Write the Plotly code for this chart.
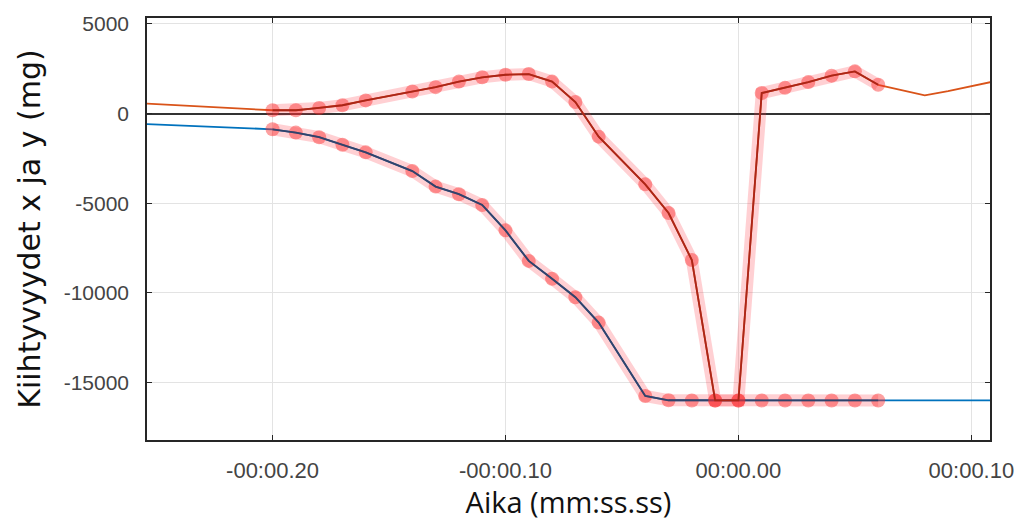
import plotly.graph_objects as go

# ---- data (seconds, mg) ----
t_pre = [-0.26]
orange_pre = [590]
blue_pre = [-560]

t_sel = [-0.20, -0.19, -0.18, -0.17, -0.16, -0.14, -0.13, -0.12, -0.11, -0.10,
         -0.09, -0.08, -0.07, -0.06, -0.04, -0.03, -0.02, -0.01, 0.00, 0.01,
         0.02, 0.03, 0.04, 0.05, 0.06]
orange_sel = [180, 180, 310, 460, 730, 1230, 1470, 1780, 2020, 2160,
              2200, 1780, 640, -1290, -3950, -5550, -8170, -16000, -16000, 1140,
              1430, 1750, 2110, 2350, 1600]
blue_sel = [-880, -1065, -1320, -1745, -2165, -3210, -4075, -4500, -5100, -6515,
            -8220, -9215, -10245, -11660, -15750, -15990, -16000, -16000, -16000, -16000,
            -16000, -16000, -16000, -16000, -16000]

t_post = [0.08, 0.09, 0.10, 0.11]
orange_post = [1010, 1250, 1520, 1800]
blue_post = [-16000, -16000, -16000, -16000]

x_tickvals = [-0.2, -0.1, 0.0, 0.1]
x_ticktext = ["-00:00.20", "-00:00.10", "00:00.00", "00:00.10"]
y_tickvals = [5000, 0, -5000, -10000, -15000]
y_ticktext = ["5000", "0", "-5000", "-10000", "-15000"]

t_all = t_pre + t_sel + t_post
orange_all = orange_pre + orange_sel + orange_post
blue_all = blue_pre + blue_sel + blue_post

ORANGE = "#D95319"
BLUE = "#0072BD"

fig = go.Figure()
fig.add_trace(go.Scatter(x=t_all, y=blue_all, mode="lines",
                         line=dict(color=BLUE, width=1.8), showlegend=False))
fig.add_trace(go.Scatter(x=t_all, y=orange_all, mode="lines",
                         line=dict(color=ORANGE, width=1.8), showlegend=False))

for ys, dark in [(blue_sel, "rgb(48,68,108)"), (orange_sel, "rgb(170,38,24)")]:
    fig.add_trace(go.Scatter(x=t_sel, y=ys, mode="lines+markers",
                             line=dict(color="rgba(255,60,70,0.24)", width=12),
                             marker=dict(size=14, color="rgba(250,45,45,0.45)", line=dict(width=0)),
                             showlegend=False))
    fig.add_trace(go.Scatter(x=t_sel, y=ys, mode="lines",
                             line=dict(color=dark, width=1.8), showlegend=False))

axis_common = dict(showline=True, linecolor="#262626", linewidth=1.5, mirror="ticks",
                   ticks="inside", ticklen=5, tickcolor="#262626",
                   showgrid=True, gridcolor="#e3e3e3", gridwidth=1)

fig.update_xaxes(range=[-0.2539, 0.108], tickvals=x_tickvals, ticktext=x_ticktext,
                 zeroline=False, ticklabelstandoff=10,
                 tickfont=dict(family="Liberation Sans", size=22, color="#444444"),
                 title=dict(text="Aika (mm:ss.ss)", font=dict(family="Open Sans", size=29, color="#111111"),
                            standoff=6),
                 **axis_common)
fig.update_yaxes(range=[-18205, 5325], tickvals=y_tickvals, ticktext=y_ticktext,
                 zeroline=True, zerolinecolor="#333333", zerolinewidth=1.6, ticklabelstandoff=12,
                 tickfont=dict(family="Liberation Sans", size=21, color="#444444"),
                 title=dict(text="Kiihtyvyydet x ja y (mg)", font=dict(family="DejaVu Sans", size=30, color="#111111"),
                            standoff=14),
                 **axis_common)

fig.update_layout(width=1026, height=521, margin=dict(l=147, r=34, t=13, b=81),
                  plot_bgcolor="white", paper_bgcolor="white")

fig.write_html("out.html", config={"displayModeBar": False},
               post_script="document.body.style.margin='0';document.body.style.overflow='hidden';")
